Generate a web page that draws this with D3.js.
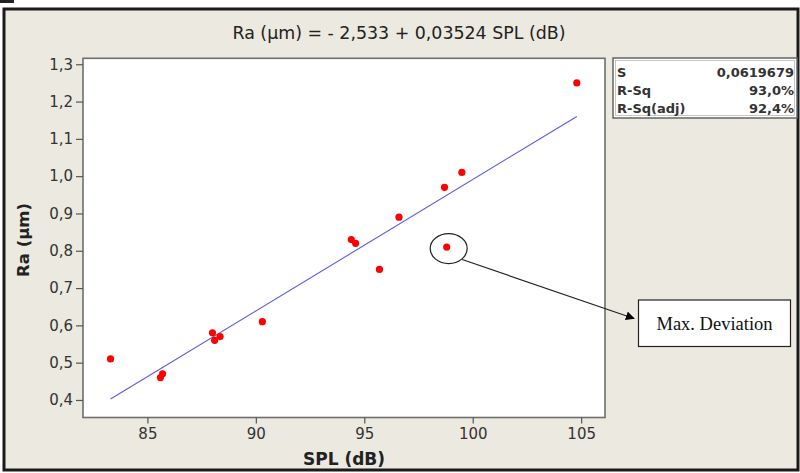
<!DOCTYPE html>
<html><head><meta charset="utf-8">
<script src="https://cdn.jsdelivr.net/npm/d3@7"></script>
<style>
html,body{margin:0;padding:0;background:#fff;}
svg{display:block;}
</style></head>
<body>
<svg id="c" width="800" height="473"></svg>
<script>
// ---- data ----
const spl = [83.3, 85.6, 85.7, 88.0, 88.1, 88.35, 90.3, 94.4, 94.6, 95.7, 96.6, 98.7, 98.8, 99.5, 104.8];
const ra  = [0.51, 0.46, 0.47, 0.58, 0.56, 0.57, 0.61, 0.83, 0.82, 0.75, 0.89, 0.97, 0.81, 1.01, 1.25];
const fitCoef = [-2.533, 0.03524]; // intercept, slope
const xTicks = [85, 90, 95, 100, 105];
const yTicks = [0.4, 0.5, 0.6, 0.7, 0.8, 0.9, 1.0, 1.1, 1.2, 1.3];
const statLabels = ["S", "R-Sq", "R-Sq(adj)"];
const statValues = ["0,0619679", "93,0%", "92,4%"];
const titleText = "Ra (\u00b5m) = - 2,533 + 0,03524 SPL (dB)";
const maxDevIndex = 12;

const svg = d3.select("#c");
const W = 800, H = 473;
const P = {l: 83, r: 605, t: 58.3, b: 417.5};

// background + frame
svg.append("rect").attr("x",0).attr("y",0).attr("width",W).attr("height",H).attr("fill","#fff");
svg.append("rect").attr("x",4).attr("y",9).attr("width",794).attr("height",461)
  .attr("fill","#ece9e0").attr("stroke","#1a1a1a").attr("stroke-width",3);
svg.append("rect").attr("x",0).attr("y",0).attr("width",14).attr("height",3).attr("fill","#222");

const x = d3.scaleLinear().domain([82.03, 106.1]).range([P.l, P.r]);
const y = d3.scaleLinear().domain([0.353, 1.316]).range([P.b, P.t]);
const fmt = v => d3.format(".1f")(v).replace(".", ",");

// plot area
svg.append("rect").attr("x",P.l).attr("y",P.t).attr("width",P.r-P.l).attr("height",P.b-P.t)
  .attr("fill","#fff").attr("stroke","#6e6e6e").attr("stroke-width",1.6);

// axes
const gx = svg.append("g").attr("transform",`translate(0,${P.b})`)
  .call(d3.axisBottom(x).tickValues(xTicks).tickSize(6).tickSizeOuter(0).tickPadding(5).tickFormat(d3.format("d")));
const gy = svg.append("g").attr("transform",`translate(${P.l},0)`)
  .call(d3.axisLeft(y).tickValues(yTicks).tickSize(7).tickSizeOuter(0).tickPadding(3).tickFormat(fmt));
[gx, gy].forEach(g => {
  g.select(".domain").remove();
  g.selectAll(".tick line").attr("stroke","#555").attr("stroke-width",1.2);
  g.selectAll(".tick text").attr("fill","#333").style("font-family","'DejaVu Sans', Verdana, sans-serif").style("font-size","15px");
});

// axis titles
svg.append("text").attr("x",(P.l+P.r)/2).attr("y",465).attr("text-anchor","middle")
  .style("font-family","'DejaVu Sans', Verdana, sans-serif").style("font-weight","bold").style("font-size","17px")
  .attr("fill","#222").text("SPL (dB)");
svg.append("text").attr("transform",`translate(29,${(P.t+P.b)/2 + 2}) rotate(-90)`).attr("text-anchor","middle")
  .style("font-family","'DejaVu Sans', Verdana, sans-serif").style("font-weight","bold").style("font-size","16.5px")
  .attr("fill","#222").text("Ra (\u00b5m)");

// title
svg.append("text").attr("x",399).attr("y",39).attr("text-anchor","middle")
  .attr("textLength",333).attr("lengthAdjust","spacingAndGlyphs")
  .style("font-family","'DejaVu Sans Condensed', 'DejaVu Sans', sans-serif").style("font-size","17px")
  .attr("fill","#222").text(titleText);

// regression line
const xmin = d3.min(spl), xmax = d3.max(spl);
svg.append("line")
  .attr("x1",x(xmin)).attr("y1",y(fitCoef[0]+fitCoef[1]*xmin))
  .attr("x2",x(xmax)).attr("y2",y(fitCoef[0]+fitCoef[1]*xmax))
  .attr("stroke","#5c5ce6").attr("stroke-width",1.1);

// points
svg.append("g").selectAll("circle").data(spl.map((s,i)=>[s,ra[i]])).join("circle")
  .attr("cx",d=>x(d[0])).attr("cy",d=>y(d[1])).attr("r",3.6).attr("fill","#f00");

// stats box
const sb = svg.append("g");
sb.append("rect").attr("x",613).attr("y",58).attr("width",184).attr("height",60)
  .attr("fill","#fff").attr("stroke","#666").attr("stroke-width",1.5);
sb.append("rect").attr("x",615.5).attr("y",60.5).attr("width",179).attr("height",55)
  .attr("fill","none").attr("stroke","#bbb").attr("stroke-width",0.8);
statLabels.forEach((s,i)=>{
  sb.append("text").attr("x",617).attr("y",76.5+i*18)
    .style("font-family","'DejaVu Sans', Verdana, sans-serif").style("font-size","13px").style("font-weight","bold")
    .attr("fill","#333").text(s);
  sb.append("text").attr("x",794).attr("y",76.5+i*18).attr("text-anchor","end")
    .style("font-family","'DejaVu Sans', Verdana, sans-serif").style("font-size","13px").style("font-weight","bold")
    .attr("fill","#333").text(statValues[i]);
});

// annotation
const defs = svg.append("defs");
defs.append("marker").attr("id","arr").attr("viewBox","0 0 10 10").attr("refX",9).attr("refY",5)
  .attr("markerWidth",9).attr("markerHeight",9).attr("orient","auto-start-reverse").attr("markerUnits","userSpaceOnUse")
  .append("path").attr("d","M0,0 L10,5 L0,10 z").attr("fill","#000");
const ex = x(spl[maxDevIndex]) + 2, ey = y(ra[maxDevIndex]) + 1.5;
svg.append("ellipse").attr("cx",ex).attr("cy",ey).attr("rx",18.5).attr("ry",15)
  .attr("fill","none").attr("stroke","#222").attr("stroke-width",1.2);
svg.append("line").attr("x1",ex+13.5).attr("y1",ey+11).attr("x2",634).attr("y2",318.5)
  .attr("stroke","#222").attr("stroke-width",1.2).attr("marker-end","url(#arr)");
svg.append("rect").attr("x",638.5).attr("y",300).attr("width",152).attr("height",46.5)
  .attr("fill","#fff").attr("stroke","#222").attr("stroke-width",1.2);
svg.append("text").attr("x",714.5).attr("y",330).attr("text-anchor","middle")
  .style("font-family","'Liberation Serif', 'Times New Roman', serif").style("font-size","18.5px")
  .attr("fill","#111").text("Max. Deviation");
</script>
</body></html>
